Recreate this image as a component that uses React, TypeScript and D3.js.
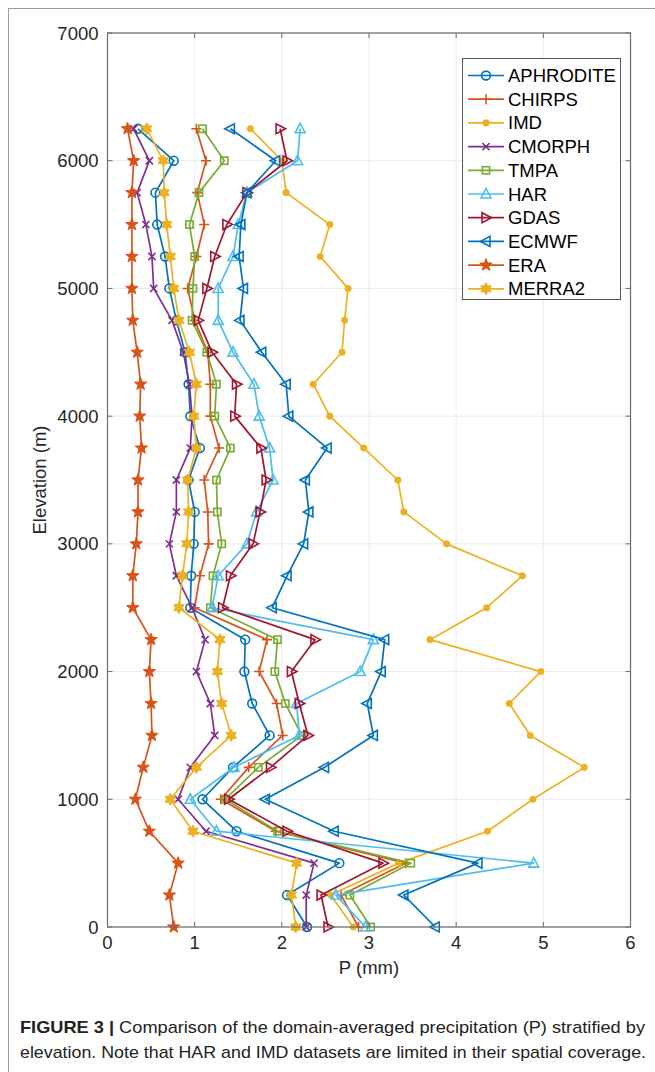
import React from "react";
import * as d3 from "d3";

const elevations = [0, 250, 500, 750, 1000, 1250, 1500, 1750, 2000, 2250, 2500, 2750, 3000, 3250, 3500, 3750, 4000, 4250, 4500, 4750, 5000, 5250, 5500, 5750, 6000, 6250];

const aphrodite = [2.29, 2.06, 2.66, 1.48, 1.09, 1.44, 1.86, 1.66, 1.57, 1.58, 0.95, 0.96, 0.99, 1.0, 0.93, 1.06, 0.95, 0.93, 0.89, 0.79, 0.71, 0.66, 0.57, 0.55, 0.76, 0.35];
const chirps = [2.88, 2.68, 3.42, 1.93, 1.3, 1.62, 2.01, 1.94, 1.74, 1.83, 1.0, 1.06, 1.16, 1.15, 1.11, 1.28, 1.18, 1.18, 1.15, 1.0, 0.92, 1.02, 1.11, 1.03, 1.13, 1.02];
const imd = [2.82, 2.56, 3.34, 4.36, 4.88, 5.47, 4.85, 4.61, 4.97, 3.7, 4.35, 4.76, 3.89, 3.4, 3.33, 2.94, 2.55, 2.36, 2.69, 2.72, 2.76, 2.44, 2.55, 2.05, 2.0, 1.64];
const cmorph = [2.28, 2.28, 2.37, 1.13, 0.81, 0.95, 1.23, 1.18, 1.02, 1.12, 0.97, 0.79, 0.71, 0.79, 0.79, 0.95, 0.97, 0.94, 0.87, 0.74, 0.53, 0.51, 0.44, 0.34, 0.48, 0.3];
const tmpa = [3.02, 2.78, 3.48, 1.95, 1.35, 1.73, 2.23, 2.04, 1.92, 1.95, 1.18, 1.21, 1.31, 1.26, 1.25, 1.41, 1.23, 1.25, 1.14, 0.97, 0.98, 1.0, 0.94, 1.05, 1.34, 1.09];
const har = [2.96, 2.62, 4.89, 1.25, 0.95, 1.45, 2.2, 2.17, 2.9, 3.05, 1.2, 1.27, 1.6, 1.71, 1.9, 1.86, 1.74, 1.68, 1.44, 1.27, 1.27, 1.44, 1.5, 1.6, 2.18, 2.21];
const gdas = [2.53, 2.45, 3.16, 2.06, 1.39, 1.87, 2.3, 2.2, 2.11, 2.38, 1.32, 1.41, 1.67, 1.75, 1.82, 1.76, 1.46, 1.48, 1.2, 1.04, 1.14, 1.23, 1.37, 1.6, 2.06, 1.98];
const ecmwf = [3.76, 3.4, 4.25, 2.6, 1.81, 2.49, 3.05, 2.98, 3.14, 3.18, 1.89, 2.06, 2.25, 2.31, 2.27, 2.52, 2.08, 2.05, 1.77, 1.52, 1.56, 1.51, 1.53, 1.6, 1.93, 1.41];
const era = [0.76, 0.71, 0.81, 0.48, 0.32, 0.41, 0.51, 0.5, 0.48, 0.5, 0.29, 0.29, 0.33, 0.35, 0.35, 0.39, 0.37, 0.38, 0.34, 0.29, 0.28, 0.28, 0.28, 0.28, 0.3, 0.23];
const merra2 = [2.16, 2.11, 2.17, 0.98, 0.72, 1.02, 1.42, 1.31, 1.26, 1.29, 0.82, 0.86, 0.91, 0.93, 0.92, 1.02, 0.99, 1.02, 0.94, 0.82, 0.76, 0.72, 0.68, 0.65, 0.64, 0.45];

const seriesNames = ["APHRODITE", "CHIRPS", "IMD", "CMORPH", "TMPA", "HAR", "GDAS", "ECMWF", "ERA", "MERRA2"];
const seriesValues = [aphrodite, chirps, imd, cmorph, tmpa, har, gdas, ecmwf, era, merra2];
const seriesColors = ["#0072BD", "#D95319", "#EDB120", "#7E2F8E", "#77AC30", "#4DBEEE", "#A2142F", "#0072BD", "#D95319", "#EDB120"];
const seriesMarkers = ["circle", "plus", "dot", "cross", "square", "triUp", "triRight", "triLeft", "pentagram", "hexagram"];

const xTicks = [0, 1, 2, 3, 4, 5, 6];
const yTicks = [0, 1000, 2000, 3000, 4000, 5000, 6000, 7000];

const captionBold = "FIGURE 3 |";
const captionLine1 = " Comparison of the domain-averaged precipitation (P) stratified by";
const captionLine2 = "elevation. Note that HAR and IMD datasets are limited in their spatial coverage.";

const FONT = "'Liberation Sans', Arial, Helvetica, sans-serif";

function starPath(points: number, outer: number, inner: number) {
  const pts: string[] = [];
  for (let i = 0; i < points * 2; i++) {
    const r = i % 2 === 0 ? outer : inner;
    const a = (Math.PI * i) / points - Math.PI / 2;
    pts.push(`${(r * Math.cos(a)).toFixed(2)},${(r * Math.sin(a)).toFixed(2)}`);
  }
  return "M" + pts.join("L") + "Z";
}

function Marker({ type, color, x, y }: { type: string; color: string; x: number; y: number }) {
  const t = `translate(${x},${y})`;
  const sw = 1.6;
  switch (type) {
    case "circle":
      return <circle transform={t} r={4.4} fill="none" stroke={color} strokeWidth={sw} />;
    case "plus":
      return <path transform={t} d="M-5,0H5M0,-5V5" stroke={color} strokeWidth={sw} fill="none" />;
    case "cross":
      return <path transform={t} d="M-3.6,-3.6L3.6,3.6M-3.6,3.6L3.6,-3.6" stroke={color} strokeWidth={sw} fill="none" />;
    case "dot":
      return <circle transform={t} r={3.3} fill={color} stroke={color} strokeWidth={0.5} />;
    case "square":
      return <rect transform={t} x={-3.6} y={-3.6} width={7.2} height={7.2} fill="none" stroke={color} strokeWidth={sw} />;
    case "triUp":
      return <path transform={t} d="M0,-5.5L5,4L-5,4Z" fill="none" stroke={color} strokeWidth={sw} />;
    case "triRight":
      return <path transform={t} d="M5.5,0L-4,-5L-4,5Z" fill="none" stroke={color} strokeWidth={sw} />;
    case "triLeft":
      return <path transform={t} d="M-5.5,0L4,-5L4,5Z" fill="none" stroke={color} strokeWidth={sw} />;
    case "pentagram":
      return <path transform={t} d={starPath(5, 6.5, 2.7)} fill={color} stroke={color} strokeWidth={1} />;
    case "hexagram":
      return <path transform={t} d={starPath(6, 6, 3.4)} fill={color} stroke={color} strokeWidth={1} />;
    default:
      return null;
  }
}

export default function App() {
  const W = 655;
  const H = 1072;
  const left = 107.5;
  const right = 630.5;
  const top = 33;
  const bottom = 927;

  const x = d3.scaleLinear().domain([0, 6]).range([left, right]);
  const y = d3.scaleLinear().domain([0, 7000]).range([bottom, top]);

  const line = d3
    .line<[number, number]>()
    .x((d) => x(d[0]))
    .y((d) => y(d[1]));

  const axisColor = "#6b6b6b";
  const gridColor = "#ebebeb";

  const legendX = 462.5;
  const legendY = 58.5;
  const legendW = 158;
  const legendH = 241;
  const rowH = 23.7;

  return (
    <svg
      width={W}
      height={H}
      style={{ position: "absolute", left: 0, top: 0, background: "#fff" }}
      fontFamily={FONT}
    >
      <rect x={0} y={0} width={W} height={H} fill="#fff" />
      <rect x={8.5} y={8.5} width={700} height={1100} fill="none" stroke="#9a9a9a" strokeWidth={1} />

      {/* grid */}
      {xTicks.map((t) => (
        <line key={"gx" + t} x1={x(t)} x2={x(t)} y1={top} y2={bottom} stroke={gridColor} strokeWidth={1} />
      ))}
      {yTicks.map((t) => (
        <line key={"gy" + t} x1={left} x2={right} y1={y(t)} y2={y(t)} stroke={gridColor} strokeWidth={1} />
      ))}

      {/* series */}
      {seriesValues.map((vals, i) => {
        const pts = vals.map((v, j) => [v, elevations[j]] as [number, number]);
        return (
          <g key={seriesNames[i]}>
            <path d={line(pts) || ""} fill="none" stroke={seriesColors[i]} strokeWidth={1.7} strokeLinejoin="round" />
            {pts.map((p, j) => (
              <Marker key={j} type={seriesMarkers[i]} color={seriesColors[i]} x={x(p[0])} y={y(p[1])} />
            ))}
          </g>
        );
      })}

      {/* axes box */}
      <rect x={left} y={top} width={right - left} height={bottom - top} fill="none" stroke={axisColor} strokeWidth={1.2} />
      {xTicks.map((t) => (
        <g key={"tx" + t}>
          <line x1={x(t)} x2={x(t)} y1={bottom} y2={bottom - 5} stroke={axisColor} />
          <line x1={x(t)} x2={x(t)} y1={top} y2={top + 5} stroke={axisColor} />
          <text x={x(t)} y={bottom + 22} fontSize={18.5} textAnchor="middle" fill="#262626">
            {t}
          </text>
        </g>
      ))}
      {yTicks.map((t) => (
        <g key={"ty" + t}>
          <line x1={left} x2={left + 5} y1={y(t)} y2={y(t)} stroke={axisColor} />
          <line x1={right} x2={right - 5} y1={y(t)} y2={y(t)} stroke={axisColor} />
          <text x={left - 9} y={y(t) + 6.5} fontSize={18.5} textAnchor="end" fill="#262626">
            {t}
          </text>
        </g>
      ))}

      <text x={(left + right) / 2} y={974} fontSize={18.5} textAnchor="middle" fill="#262626">
        P (mm)
      </text>
      <text
        transform={`translate(46,${(top + bottom) / 2}) rotate(-90)`}
        fontSize={18.5}
        textAnchor="middle"
        fill="#262626"
      >
        Elevation (m)
      </text>

      {/* legend */}
      <rect x={legendX} y={legendY} width={legendW} height={legendH} fill="#fff" stroke="#555" strokeWidth={1} />
      {seriesNames.map((name, i) => {
        const cy = legendY + 17 + i * rowH;
        return (
          <g key={"lg" + name}>
            <line x1={468} x2={504} y1={cy} y2={cy} stroke={seriesColors[i]} strokeWidth={1.7} />
            <Marker type={seriesMarkers[i]} color={seriesColors[i]} x={486} y={cy} />
            <text x={508} y={cy + 6.5} fontSize={18.5} fill="#000">
              {name}
            </text>
          </g>
        );
      })}

      {/* caption */}
      <text x={20} y={1033} fontSize={17} fill="#222" textLength={625} lengthAdjust="spacingAndGlyphs">
        <tspan fontWeight="bold">{captionBold}</tspan>
        <tspan>{captionLine1}</tspan>
      </text>
      <text x={20} y={1058} fontSize={17} fill="#222" textLength={626} lengthAdjust="spacingAndGlyphs">
        {captionLine2}
      </text>
    </svg>
  );
}
